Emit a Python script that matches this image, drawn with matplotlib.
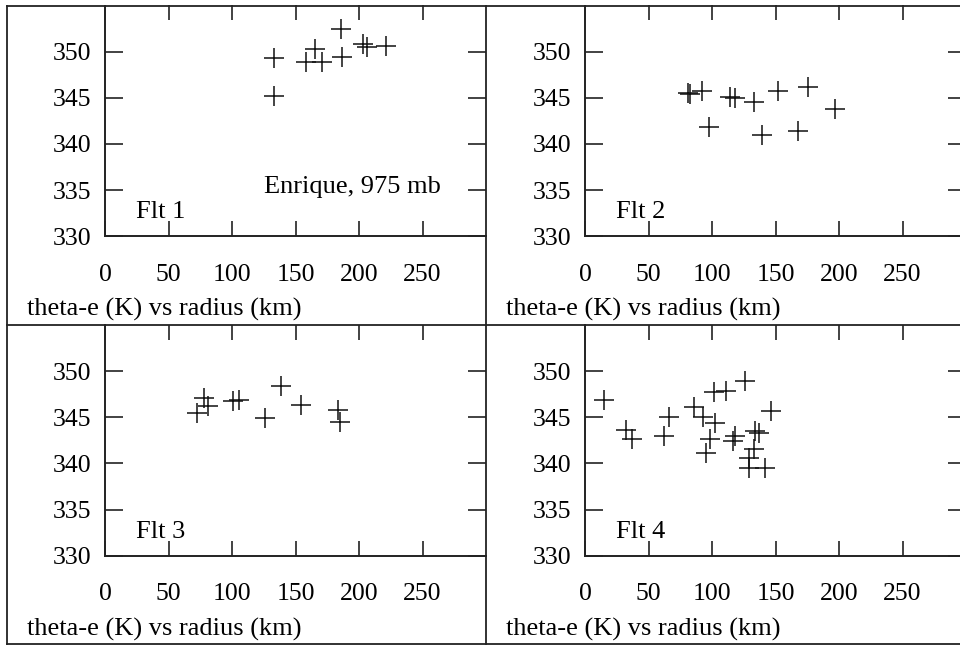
import matplotlib
matplotlib.use('Agg')
import matplotlib.pyplot as plt
from matplotlib.lines import Line2D

plt.rcParams['font.family'] = ['Liberation Serif', 'DejaVu Serif']

# radius (km) and theta-e (K) for each flight, Enrique 975 mb
flt1_r = [132.9, 132.9, 157.9, 165.3, 171.1, 185.5, 186.6, 202.9, 206.1, 221.6]
flt1_te = [349.34, 345.22, 348.91, 350.26, 348.84, 352.43, 349.46, 350.80, 350.54, 350.65]

flt2_r = [81.1, 82.9, 92.1, 97.7, 113.9, 118.4, 132.9, 139.7, 152.1, 167.6, 175.8, 196.8]
flt2_te = [345.48, 345.41, 345.76, 341.79, 345.11, 344.93, 344.57, 340.96, 345.76, 341.39, 346.13, 343.74]

flt3_r = [72.4, 78.2, 80.8, 100.5, 105.2, 126.3, 138.9, 154.7, 183.7, 185.0]
flt3_te = [345.48, 347.11, 346.20, 346.74, 346.82, 344.94, 348.37, 346.31, 345.84, 344.50]

flt4_r = [15.3, 32.4, 36.9, 62.4, 65.8, 85.5, 92.9, 95.5, 98.7, 101.3, 102.6, 111.1,
          116.6, 118.4, 126.3, 128.9, 128.9, 132.9, 134.2, 136.8, 142.1, 146.6]
flt4_te = [346.82, 343.60, 342.66, 342.95, 345.01, 346.09, 345.01, 341.14, 342.60, 347.72, 344.39, 347.83,
           342.40, 342.95, 348.91, 340.60, 339.48, 341.55, 343.52, 343.34, 339.47, 345.70]

flights = [
    (flt1_r, flt1_te, 'Flt 1'),
    (flt2_r, flt2_te, 'Flt 2'),
    (flt3_r, flt3_te, 'Flt 3'),
    (flt4_r, flt4_te, 'Flt 4'),
]

xticks = [0, 50, 100, 150, 200, 250]
yticks = [330, 335, 340, 345, 350]

W, H = 960, 645
fig = plt.figure(figsize=(W / 100, H / 100), dpi=100)


def fx(px):
    return px / W


def fy(py):
    return 1 - py / H


line_col = '#222222'
fs_tick = 18.5
fs_text = 19

# panel origins in pixels: (left border, top border, axes left)
slots = [(7, 5.5, 105), (486, 5.5, 585), (7, 325, 105), (486, 325, 585)]

for (r, te, name), (pl, pt, axl) in zip(flights, slots):
    ax = fig.add_axes([fx(axl), fy(pt + 230.7), 381 / W, 230.7 / H])
    ax.set_facecolor('none')
    ax.plot(r, te, '+', ms=14.5, mew=1.1, color='#111111')
    ax.set_xlim(0, 300)
    ax.set_ylim(330, 355)
    ax.set_xticks(xticks)
    ax.set_yticks(yticks)
    ax.tick_params(axis='x', direction='in', length=11, width=1.2, color=line_col,
                   top=True, bottom=True, labelsize=fs_tick, pad=20)
    ax.tick_params(axis='y', direction='in', length=13, width=1.2, color=line_col,
                   left=True, right=True, labelsize=fs_tick, pad=10)
    for s in ['top', 'right']:
        ax.spines[s].set_visible(False)
    for s in ['left', 'bottom']:
        ax.spines[s].set_linewidth(1.4)
        ax.spines[s].set_color(line_col)
    ax.text(24.5, 332.6, name, fontsize=fs_text, va='center', ha='left')
    if name == 'Flt 1':
        ax.text(125.5, 335.35, 'Enrique, 975 mb', fontsize=fs_text, va='center', ha='left')

    fig.text(fx(pl + 20), fy(pt + 304), 'theta-e (K) vs radius (km)',
             fontsize=fs_text, va='center', ha='left')

# outer frame and panel separators
frame = [
    ([7, 960], [5.5, 5.5]),
    ([7, 960], [325, 325]),
    ([7, 960], [643.5, 643.5]),
    ([7, 7], [5.5, 643.5]),
    ([486, 486], [5.5, 643.5]),
]
for xs, ys in frame:
    fig.add_artist(Line2D([fx(v) for v in xs], [fy(v) for v in ys],
                          transform=fig.transFigure, color=line_col, lw=1.3))

fig.savefig('out.png', dpi=100)
